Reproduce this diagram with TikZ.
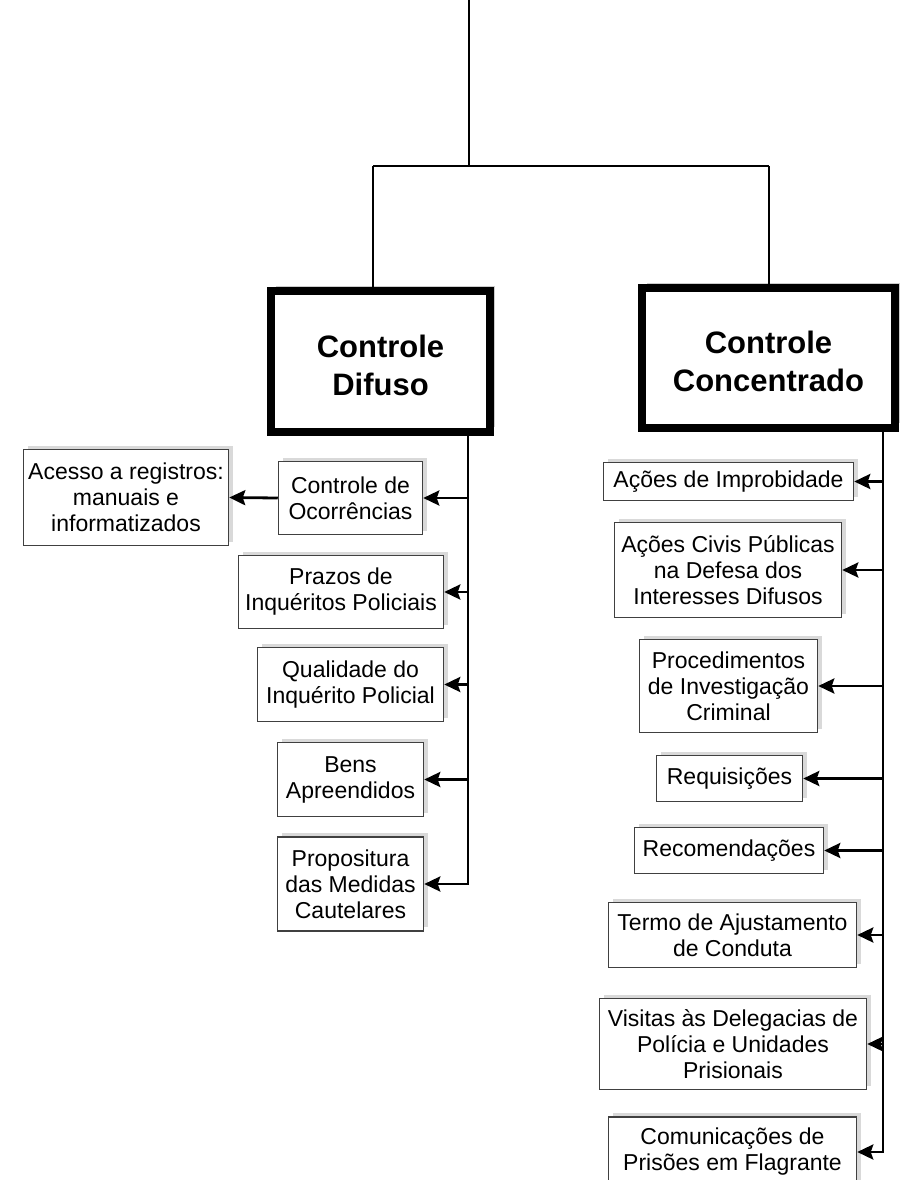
\documentclass[tikz,border=0pt]{standalone}
\usepackage{fontspec}
\setmainfont{Liberation Sans}
\usetikzlibrary{shadows,arrows.meta}

\begin{document}
\begin{tikzpicture}[x=1pt,y=-1pt,
    ramo/.style={draw=black!75, line width=1.5pt, fill=white, inner sep=0pt, align=center, font=\fontsize{23}{26}\selectfont, drop shadow={shadow xshift=4pt, shadow yshift=4pt, fill=black!15, opacity=1}},
    chefe/.style={draw=black, line width=8pt, fill=white, inner sep=0pt, align=center, font=\fontsize{31}{38}\selectfont\bfseries, drop shadow={shadow xshift=5pt, shadow yshift=5pt, fill=black!20, opacity=1}},
    liga/.style={line width=2.6pt},
    seta/.style={line width=2.8pt, -{Stealth[length=16pt,width=15pt,inset=2.5pt]}}]
		    \useasboundingbox (0,0) rectangle (900,1180);
		    
		    \node [chefe, minimum width=219pt, minimum height=141pt] (difuso) at (380.5,361.5) {\rule{0pt}{31pt}Controle\\Difuso};
		    \node [chefe, minimum width=253pt, minimum height=140pt] (concent) at (768.5,358) {\rule{0pt}{29pt}Controle\\Concentrado};
		    
		    \node [ramo, minimum width=205pt, minimum height=96pt] (acesso) at (126,497.5) {Acesso a registros:\\manuais e\\informatizados};
		    \node [ramo, minimum width=144pt, minimum height=73pt] (ocorr) at (350.5,498) {Controle de\\Ocorrências};
		    \node [ramo, minimum width=205pt, minimum height=73pt] (prazos) at (341,592) {Prazos de\\Inquéritos Policiais};
		    \node [ramo, minimum width=186pt, minimum height=74pt] (qualid) at (350.5,684.5) {Qualidade do\\Inquérito Policial};
		    \node [ramo, minimum width=146pt, minimum height=74pt] (bens) at (350.5,779.5) {Bens\\Apreendidos};
		    \node [ramo, minimum width=146pt, minimum height=94pt] (propos) at (350.5,884) {Propositura\\das Medidas\\Cautelares};
		    
		    \node [ramo, minimum width=250pt, minimum height=38pt] (improb) at (728.5,481.5) {Ações de Improbidade};
		    \node [ramo, minimum width=227pt, minimum height=95pt] (civis) at (728,570) {Ações Civis Públicas\\na Defesa dos\\Interesses Difusos};
		    \node [ramo, minimum width=178pt, minimum height=93pt] (proced) at (728.5,686) {Procedimentos\\de Investigação\\Criminal};
		    \node [ramo, minimum width=146pt, minimum height=46pt] (requis) at (729.5,778.5) {Requisições};
		    \node [ramo, minimum width=189pt, minimum height=46pt] (recom) at (729,850.5) {Recomendações};
		    \node [ramo, minimum width=248pt, minimum height=65pt] (termo) at (732.5,935) {Termo de Ajustamento\\de Conduta};
		    \node [ramo, minimum width=267pt, minimum height=91pt] (visitas) at (733,1044) {Visitas às Delegacias de\\Polícia e Unidades\\Prisionais};
		    \node [ramo, minimum width=248pt, minimum height=70pt] (comunic) at (732.5,1152) {Comunicações de\\Prisões em Flagrante};
		    
		    \coordinate (topo) at (469,0);
		    \coordinate (junta) at (469,166);
		    \coordinate (jesq) at (373,166);
		    \coordinate (jdir) at (769,166);
		    \coordinate (esq) at (468,0);
		    \coordinate (dir) at (883,0);
		    
			\draw [liga] (topo) -- (junta);
			\draw [liga] (jesq) -- (jdir);
			\draw [liga] (jesq) -- (jesq |- difuso.north);
			\draw [liga] (jdir) -- (jdir |- concent.north);
			
			\draw [seta] (esq |- difuso.south) -- (esq |- propos.east) -- (propos.east);
			\foreach \b in {ocorr,prazos,qualid,bens}
			    \draw [seta] (esq |- \b.east) -- (\b.east);
			\draw [seta] (ocorr.west) -- (acesso.east);
			
			\draw [seta] (dir |- concent.south) -- (dir |- comunic.east) -- (comunic.east);
			\foreach \b in {improb,civis,proced,requis,recom,termo,visitas}
			    \draw [seta] (dir |- \b.east) -- (\b.east);
		\end{tikzpicture}
\end{document}
